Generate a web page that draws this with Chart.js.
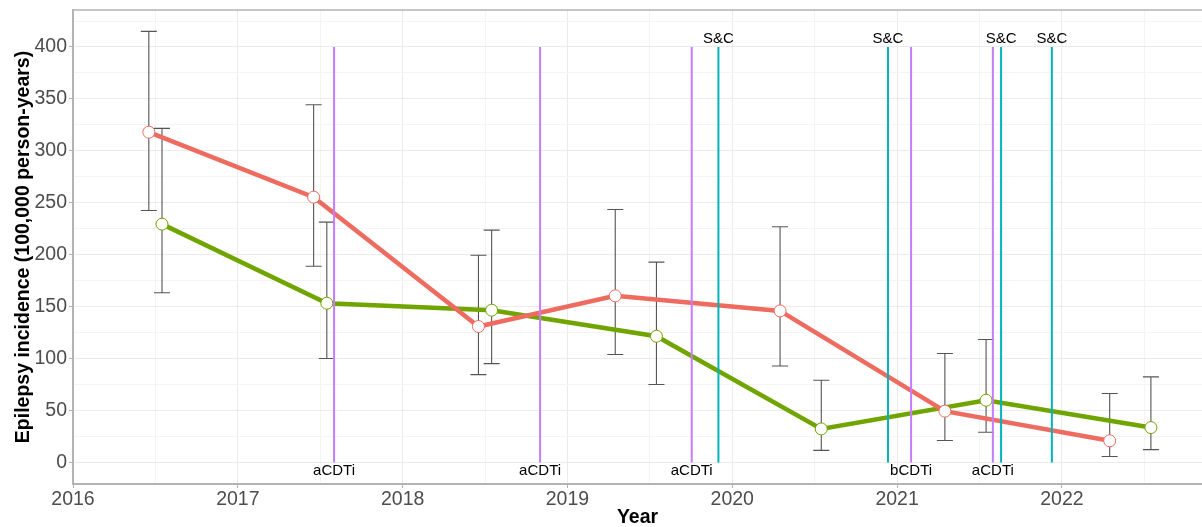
<!DOCTYPE html>
<html>
<head>
<meta charset="utf-8">
<script src="https://cdn.jsdelivr.net/npm/chart.js@4/dist/chart.umd.min.js"></script>
<style>
  html, body { margin: 0; padding: 0; background: #fff; overflow: hidden; }
  #wrap { width: 1202px; height: 527px; overflow: hidden; }
  canvas { display: block; }
</style>
</head>
<body>
<div id="wrap"><canvas id="chart" width="1202" height="527"></canvas></div>
<script>
// group A (red)
const redYears = [2016.46, 2017.46, 2018.46, 2019.29, 2020.29, 2021.29, 2022.29];
const redValues = [318, 255.5, 131, 160.5, 146, 49.5, 21];
const redLow = [242.7, 189, 84.7, 104, 93, 21.2, 5.8];
const redHigh = [415, 344.4, 199.6, 243.6, 227, 105, 66.5];

// group B (green)
const greenYears = [2016.54, 2017.54, 2018.54, 2019.54, 2020.54, 2021.54, 2022.54];
const greenValues = [229.5, 153.4, 146.7, 121.6, 32.4, 60, 33.7];
const greenLow = [163.4, 100.2, 95.3, 75.1, 11.8, 29.2, 12.5];
const greenHigh = [321.7, 231.4, 223.7, 192.9, 79.3, 118.5, 82.5];

// event markers
const cdtiYears = [2017.584, 2018.834, 2019.754, 2021.085, 2021.581];
const cdtiLabels = ['aCDTi', 'aCDTi', 'aCDTi', 'bCDTi', 'aCDTi'];
const scYears = [2019.916, 2020.945, 2021.631, 2021.939];
const scLabels = ['S&C', 'S&C', 'S&C', 'S&C'];

const RED = '#EE6B60';
const GREEN = '#70A500';
const PURPLE = '#C77CFF';
const CYAN = '#00B3BE';
const AXIS = '#B3B3B3';
const FONT = '"Liberation Sans", Arial, sans-serif';

const toPoints = (xs, ys) => xs.map((x, i) => ({ x: x, y: ys[i] }));

const errorBars = {
    id: 'errorBars',
    beforeDatasetsDraw(chart) {
        const { ctx, scales: { x, y } } = chart;
        const groups = [[redYears, redLow, redHigh], [greenYears, greenLow, greenHigh]];
        ctx.save();
        ctx.strokeStyle = '#555555';
        ctx.lineWidth = 1.1;
        groups.forEach(([xs, lo, hi]) => {
            xs.forEach((xv, i) => {
                const px = x.getPixelForValue(xv);
                const y1 = y.getPixelForValue(lo[i]);
                const y2 = y.getPixelForValue(hi[i]);
                ctx.beginPath();
                ctx.moveTo(px, y1); ctx.lineTo(px, y2);
                ctx.moveTo(px - 8, y1); ctx.lineTo(px + 8, y1);
                ctx.moveTo(px - 8, y2); ctx.lineTo(px + 8, y2);
                ctx.stroke();
            });
        });
        ctx.restore();
    }
};

const eventLines = {
    id: 'eventLines',
    afterDatasetsDraw(chart) {
        const { ctx, scales: { x, y } } = chart;
        const top = y.getPixelForValue(400);
        const bottom = y.getPixelForValue(0);
        ctx.save();
        ctx.lineWidth = 2;
        ctx.font = '15px ' + FONT;
        ctx.fillStyle = '#000';
        ctx.textAlign = 'center';
        ctx.textBaseline = 'middle';
        cdtiYears.forEach((xv, i) => {
            const px = x.getPixelForValue(xv);
            ctx.strokeStyle = PURPLE;
            ctx.beginPath(); ctx.moveTo(px, top); ctx.lineTo(px, bottom); ctx.stroke();
            ctx.fillText(cdtiLabels[i], px, bottom + 8.5);
        });
        scYears.forEach((xv, i) => {
            const px = x.getPixelForValue(xv);
            ctx.strokeStyle = CYAN;
            ctx.beginPath(); ctx.moveTo(px, top); ctx.lineTo(px, bottom); ctx.stroke();
            ctx.fillText(scLabels[i], px, top - 8);
        });
        ctx.restore();
    }
};

const frame = {
    id: 'frame',
    afterDraw(chart) {
        const { ctx, chartArea } = chart;
        ctx.save();
        ctx.strokeStyle = AXIS;
        ctx.lineWidth = 1.5;
        ctx.beginPath();
        ctx.moveTo(chartArea.left, chartArea.top);
        ctx.lineTo(chartArea.right, chartArea.top);
        ctx.stroke();
        ctx.restore();
    }
};

const seriesStyle = (color) => ({
    borderColor: color,
    borderWidth: 4.5,
    pointRadius: 6,
    pointBorderWidth: 1,
    pointBackgroundColor: '#ffffff',
    pointBorderColor: color,
    tension: 0
});

new Chart(document.getElementById('chart').getContext('2d'), {
    type: 'line',
    data: {
        datasets: [
            Object.assign({ label: 'A', data: toPoints(redYears, redValues) }, seriesStyle(RED)),
            Object.assign({ label: 'B', data: toPoints(greenYears, greenValues) }, seriesStyle(GREEN))
        ]
    },
    options: {
        responsive: false,
        animation: false,
        layout: { autoPadding: false, padding: { top: 10, right: 0, left: 0, bottom: 0 } },
        plugins: {
            legend: { display: false },
            tooltip: { enabled: false }
        },
        scales: {
            x: {
                type: 'linear',
                min: 2016,
                max: 2022.85,
                afterFit: (s) => { s.height = 43; s.paddingLeft = 0; s.paddingRight = 0; },
                border: { color: AXIS, width: 2 },
                grid: {
                    color: (c) => Number.isInteger(c.tick.value) ? '#EBEBEB' : '#F4F4F4',
                    tickColor: (c) => Number.isInteger(c.tick.value) ? AXIS : 'rgba(0,0,0,0)',
                    tickLength: 4
                },
                ticks: {
                    stepSize: 0.5,
                    includeBounds: false,
                    autoSkip: false,
                    maxRotation: 0,
                    padding: 0,
                    color: '#4D4D4D',
                    font: { family: FONT, size: 19.5 },
                    callback: (v) => Number.isInteger(v) ? String(v) : ''
                },
                title: {
                    display: true,
                    text: 'Year',
                    color: '#000',
                    padding: { top: 0, bottom: 0 },
                    font: { family: FONT, size: 19.5, weight: 'bold', lineHeight: 1 }
                }
            },
            y: {
                type: 'linear',
                min: -20.6,
                max: 435.6,
                afterFit: (s) => { s.width = 73; s.paddingTop = 0; s.paddingBottom = 0; },
                border: { color: AXIS, width: 2 },
                grid: {
                    color: (c) => c.tick.value % 50 === 0 ? '#EBEBEB' : '#F4F4F4',
                    tickColor: (c) => c.tick.value % 50 === 0 ? AXIS : 'rgba(0,0,0,0)',
                    tickLength: 4
                },
                ticks: {
                    stepSize: 25,
                    includeBounds: false,
                    autoSkip: false,
                    padding: 2,
                    color: '#4D4D4D',
                    font: { family: FONT, size: 19.5 },
                    callback: (v) => v % 50 === 0 ? String(v) : ''
                },
                title: {
                    display: true,
                    text: 'Epilepsy incidence (100,000 person-years)',
                    color: '#000',
                    padding: { top: 13.5, bottom: 0 },
                    font: { family: FONT, size: 19.5, weight: 'bold', lineHeight: 1 }
                }
            }
        }
    },
    plugins: [errorBars, eventLines, frame]
});
</script>
</body>
</html>
